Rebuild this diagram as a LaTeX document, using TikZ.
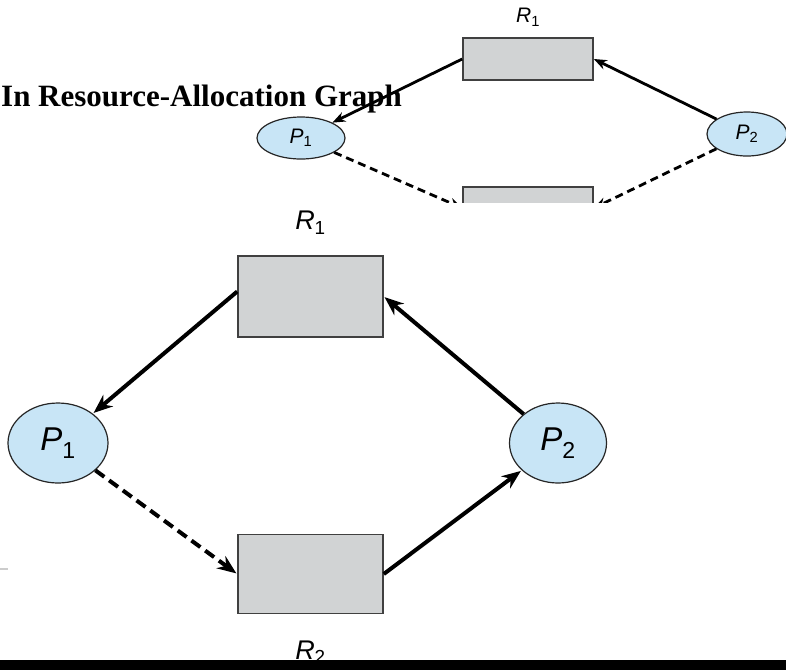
\documentclass[tikz,border=0pt]{standalone}
\usepackage{fontspec}
\setmainfont{Liberation Serif}
\setsansfont{Liberation Sans}
\usetikzlibrary{positioning, arrows.meta, shapes.geometric}
\definecolor{resgray}{RGB}{209,211,212}
\definecolor{procblue}{RGB}{200,229,246}
\newcommand{\vtx}[2]{\textit{#1}\textsubscript{#2}}

\begin{document}
\begin{tikzpicture}[
  x=1pt, y=-1pt,
  res/.style={draw=black!75, fill=resgray, line width=1.6pt, inner sep=0pt},
  proc/.style={ellipse, draw=black!85, fill=procblue, line width=1.2pt, inner sep=0pt, font=\sffamily},
  edge/.style={-{Stealth[length=19pt, width=15pt]}, line width=4pt, shorten >=1pt},
  smalledge/.style={-{Stealth[length=13pt, width=10pt]}, line width=2.8pt},
  claim/.style={edge, dash pattern=on 11pt off 6pt},
  smallclaim/.style={smalledge, dash pattern=on 8pt off 5pt},
  lbl/.style={font=\sffamily\fontsize{27}{32}\selectfont, inner sep=0pt}
]
\useasboundingbox (0,0) rectangle (786,670);
\fill[white] (0,0) rectangle (786,670);

% Small graph (top, cut off below)
\begin{scope}
\clip (0,0) rectangle (786,202);
\node[res, minimum width=130pt, minimum height=42pt] (R1s) at (528,59) {};
\node[res, minimum width=130pt, minimum height=42pt] (R2s) at (528,208) {};
\node[proc, minimum width=88pt, minimum height=42pt, font=\sffamily\fontsize{21}{24}\selectfont] (P1s) at (301,138) {\vtx{P}{1}};
\node[proc, minimum width=80pt, minimum height=44pt, font=\sffamily\fontsize{21}{24}\selectfont] (P2s) at (747,134) {\vtx{P}{2}};
\node[lbl, font=\sffamily\fontsize{21}{24}\selectfont, above=11pt of R1s] (R1slbl) {\vtx{R}{1}};

% Title
\node[anchor=base west, inner sep=0pt, font=\bfseries\fontsize{31}{36}\selectfont] (title) at (1,106) {In Resource-Allocation Graph};

\draw[smalledge] (R1s.west) -- (P1s);
\draw[smalledge] (P2s) -- (R1s.east);
\draw[smallclaim] (P1s) -- (R2s.west);
\draw[smallclaim] (P2s) -- (R2s.east);
\end{scope}

% Large graph
\node[res, minimum width=145pt, minimum height=81pt] (R1) at (310.5,296.5) {};
\node[res, minimum width=145pt, minimum height=79pt] (R2) at (310.5,574) {};
\node[proc, minimum width=100pt, minimum height=80pt, font=\sffamily\fontsize{33}{38}\selectfont] (P1) at (58,443) {\vtx{P}{1}};
\node[proc, minimum width=97pt, minimum height=80pt, font=\sffamily\fontsize{33}{38}\selectfont] (P2) at (558,443) {\vtx{P}{2}};
\node[lbl, above=21pt of R1] (R1lbl) {\vtx{R}{1}};
\node[lbl, below=26pt of R2, anchor=north] (R2lbl) {\vtx{R}{2}};

\draw[edge] ([yshift=5pt]R1.west) -- (P1);
\draw[edge] (P2) -- (R1.east);
\draw[claim] (P1) -- (R2.west);
\draw[edge] (R2.east) -- (P2);

% stray mark and bottom bar
\coordinate (markL) at (0,569);
\coordinate (markR) at (8,569);
\draw[black!20, line width=2pt] (markL) -- (markR);
\fill[black] (0,660) rectangle (786,670);
\end{tikzpicture}
\end{document}
